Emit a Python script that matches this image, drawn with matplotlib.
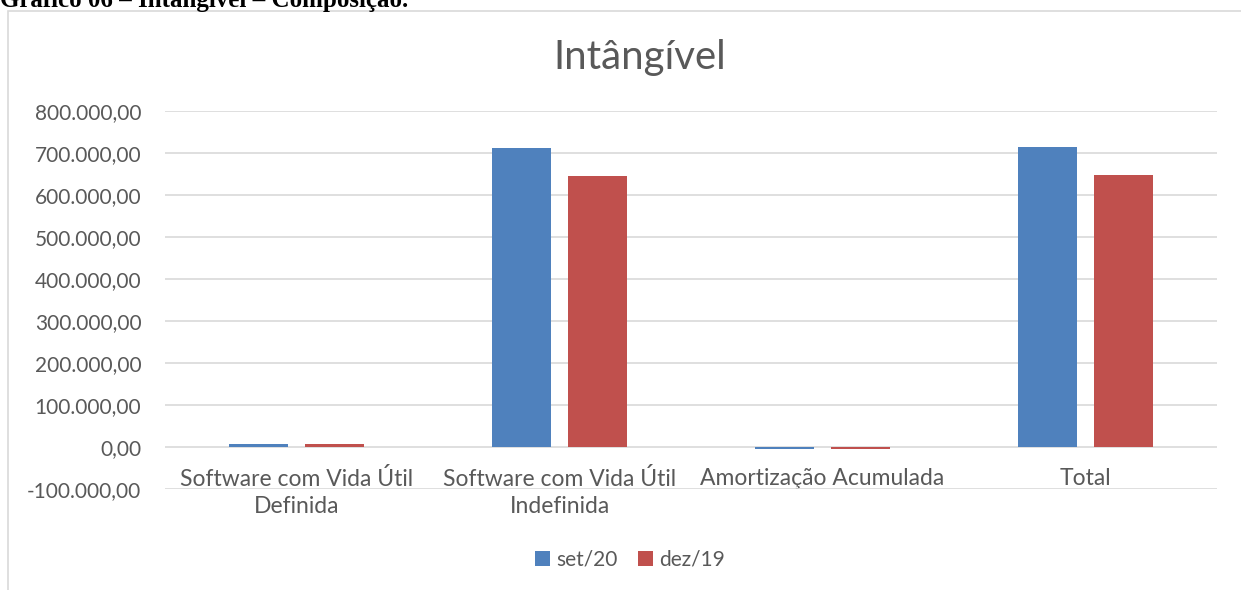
import numpy as np
import matplotlib
matplotlib.use("Agg")
import matplotlib.pyplot as plt
from matplotlib.patches import Rectangle
from matplotlib.ticker import FuncFormatter

categories = ["Software com Vida Útil\nDefinida", "Software com Vida Útil\nIndefinida",
              "Amortização Acumulada", "Total"]
set20 = [6300, 712000, -5200, 713100]
dez19 = [6300, 645500, -4900, 646900]
series_names = ["set/20", "dez/19"]
y_ticks = [-100000, 0, 100000, 200000, 300000, 400000, 500000, 600000, 700000, 800000]

BLUE = "#4F81BD"
RED = "#C0504D"
TXT = "#595959"
GRID = "#D9D9D9"

plt.rcParams['font.family'] = ['Lato', 'DejaVu Sans']

fig = plt.figure(figsize=(12.41, 5.90), dpi=100)
ax = fig.add_axes([165 / 1241, 1 - 489 / 590, (1217 - 165) / 1241, (489 - 111) / 590])

# chart frame + heading cut off at the top
fig.patches.append(Rectangle((8 / 1241, -0.05), 1.1, 1 - 11 / 590 + 0.05, transform=fig.transFigure,
                             fill=False, edgecolor=GRID, linewidth=1.2))
fig.text(0.0, 1 - 7 / 590, "Gráfico 06 – Intangível – Composição.", family="Liberation Serif",
         fontweight="bold", fontsize=18, color="black", va="baseline", ha="left")

x = np.arange(len(categories))
w = 0.224
ax.bar(x - 0.143, set20, w, color=BLUE, label=series_names[0], zorder=3)
ax.bar(x + 0.143, dez19, w, color=RED, label=series_names[1], zorder=3)

ax.set_xlim(-0.5, len(categories) - 0.5)
ax.set_ylim(-100000, 800000)
ax.set_yticks(y_ticks)
ax.yaxis.set_major_formatter(FuncFormatter(
    lambda v, p: f"{v:,.2f}".replace(",", "X").replace(".", ",").replace("X", ".")))
ax.grid(axis="y", color=GRID, linewidth=1.2, zorder=0)
for s in ax.spines.values():
    s.set_visible(False)
ax.spines['bottom'].set_position(('data', 0))

ax.set_xticks(x)
ax.set_xticklabels(categories, linespacing=1.35)
ax.tick_params(axis="x", length=0, pad=15, labelsize=16.5, labelcolor=TXT)
ax.tick_params(axis="y", length=0, pad=17, labelsize=15, labelcolor=TXT)

fig.text(640 / 1241, 1 - 58 / 590, "Intângível", ha="center", va="center", fontsize=29, color=TXT)

ax.legend(loc="center", bbox_to_anchor=(630 / 1241, 1 - 560 / 590), bbox_transform=fig.transFigure,
          ncol=2, frameon=False, fontsize=15, labelcolor=TXT, handlelength=0.7, handleheight=0.7,
          handletextpad=0.3, columnspacing=1.0)

fig.savefig("out.png", dpi=100)
